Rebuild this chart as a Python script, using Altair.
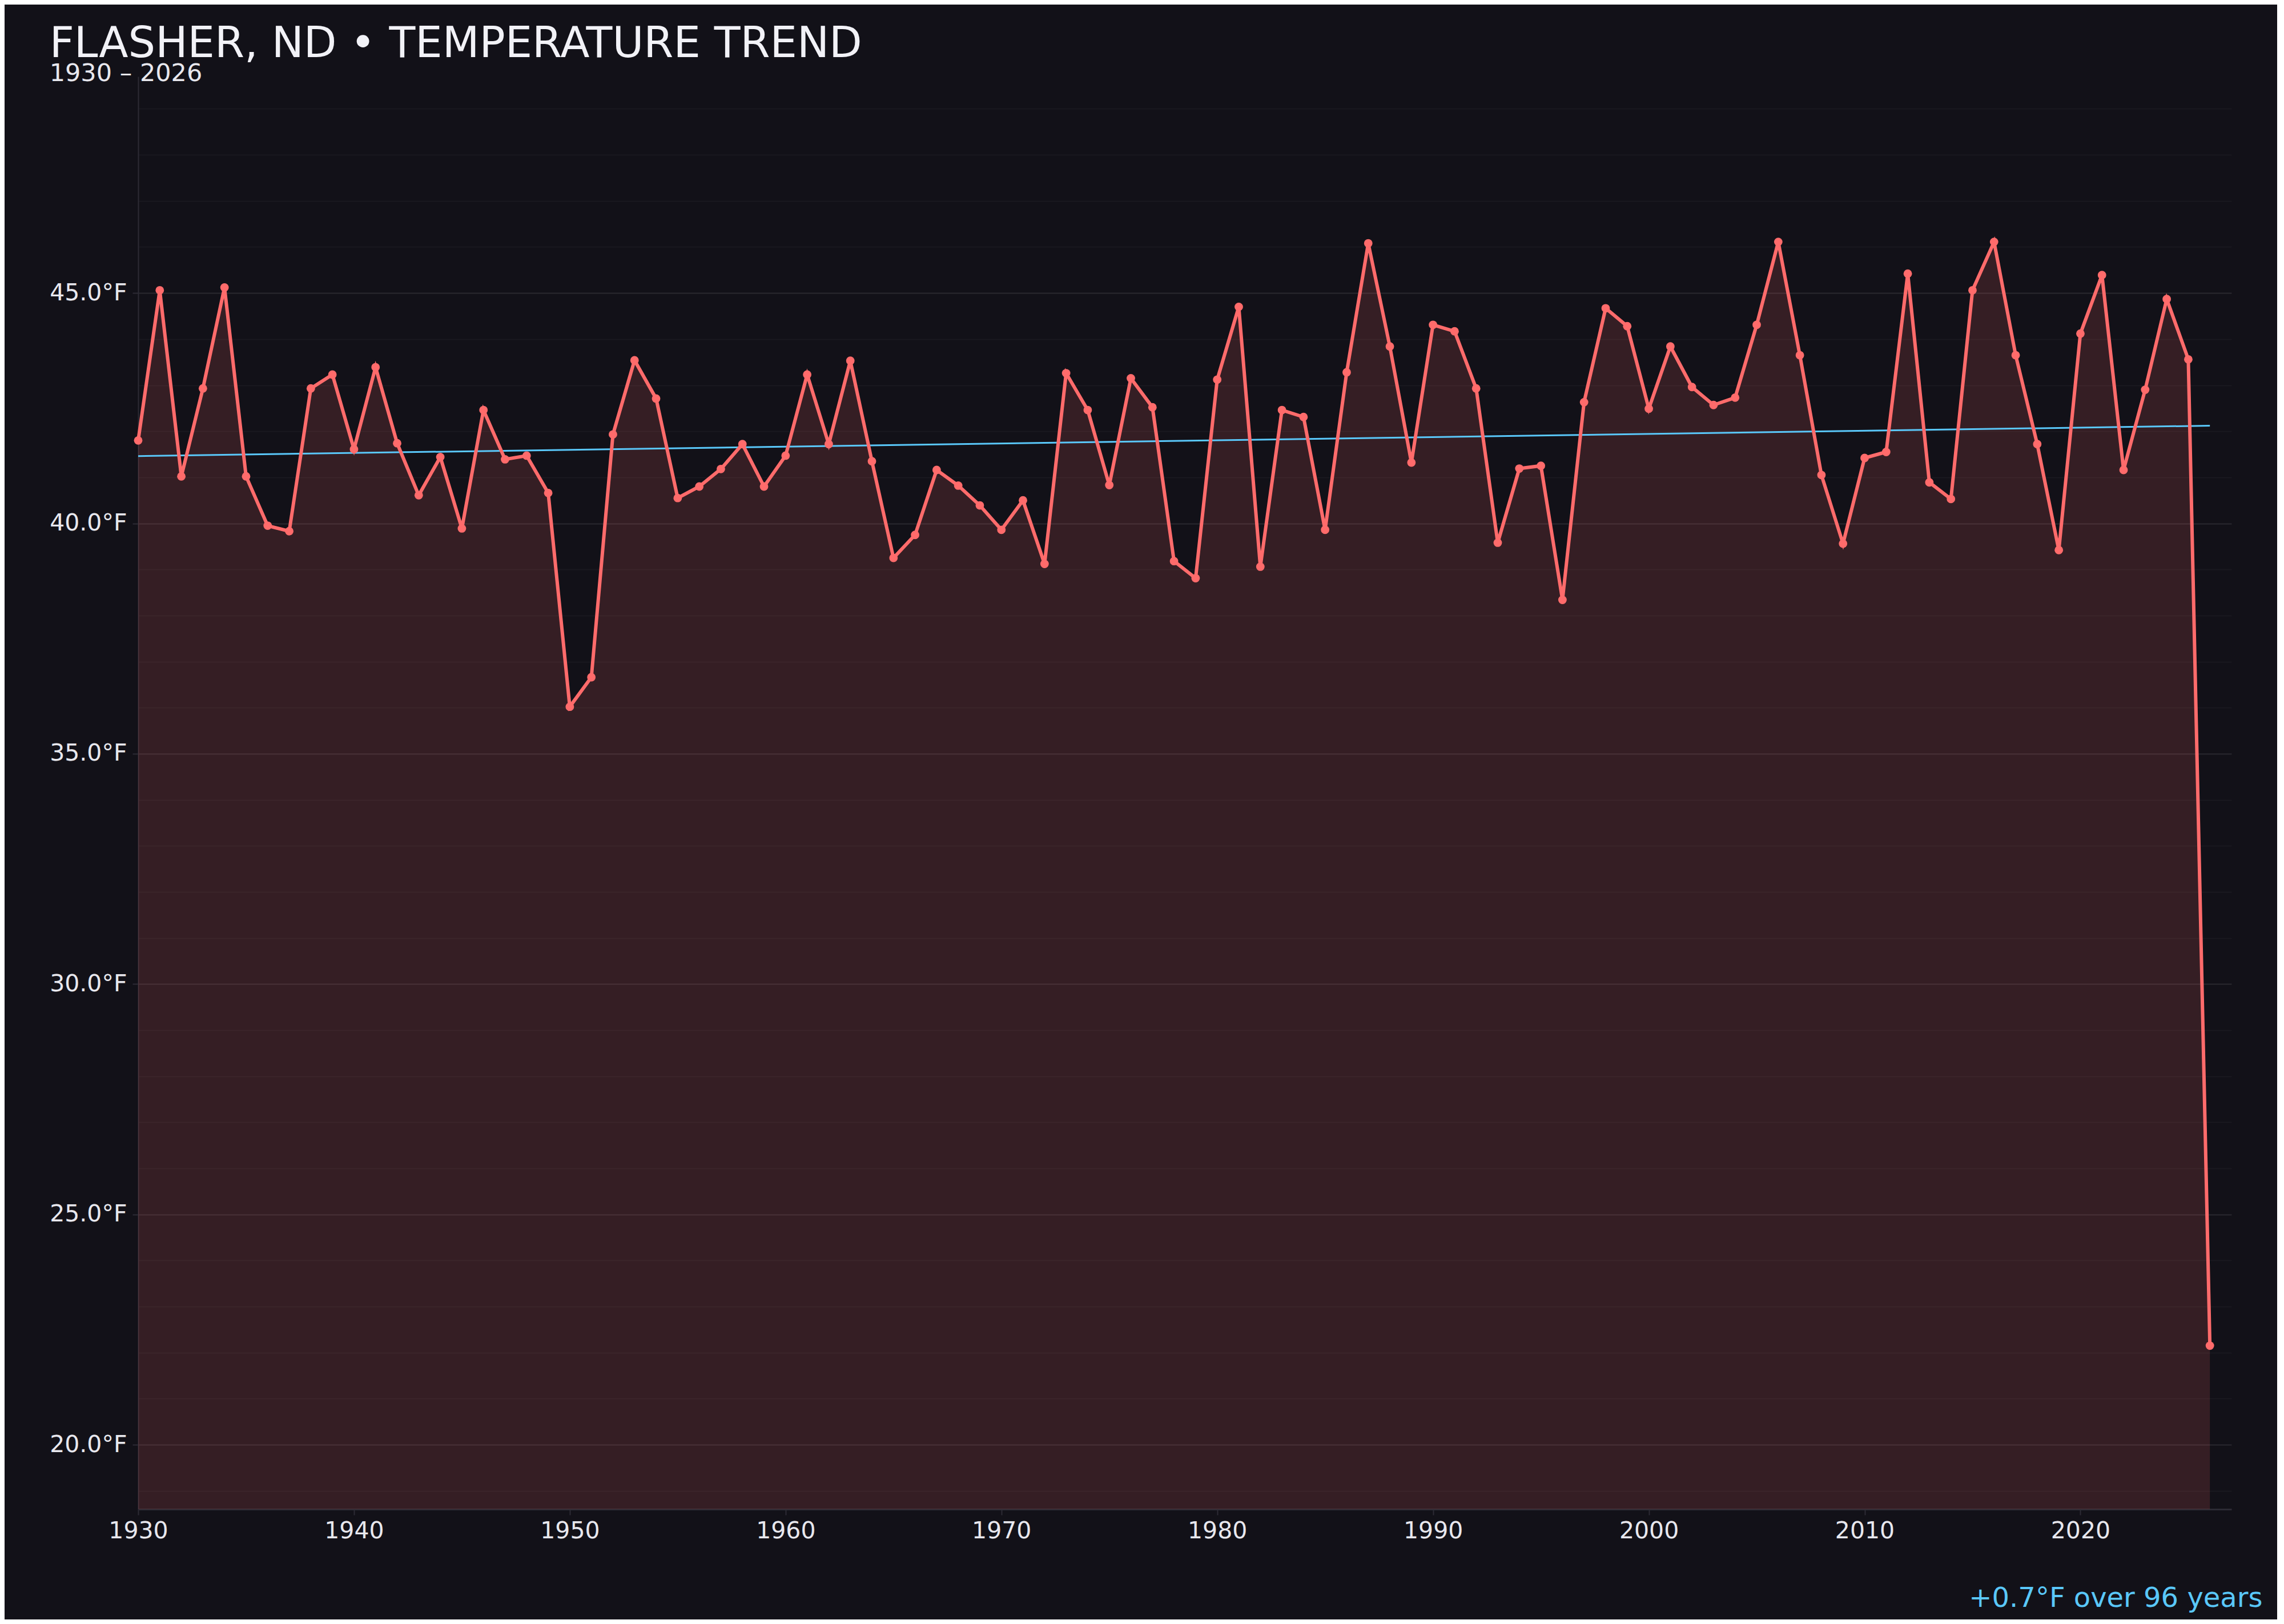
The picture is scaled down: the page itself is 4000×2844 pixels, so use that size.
import altair as alt
import pandas as pd

years = list(range(1930, 2027))
temps = [
    41.80, 45.06, 41.02, 42.93, 45.12, 41.02, 39.95, 39.83, 42.93, 43.23,
    41.61, 43.39, 41.74, 40.61, 41.44, 39.89, 42.46, 41.39, 41.47, 40.66,
    36.02, 36.66, 41.93, 43.54, 42.71, 40.55, 40.80, 41.18, 41.72, 40.80,
    41.47, 43.23, 41.72, 43.53, 41.35, 39.25, 39.75, 41.16, 40.82, 40.39,
    39.86, 40.50, 39.12, 43.26, 42.46, 40.83, 43.15, 42.52, 39.18, 38.81,
    43.12, 44.70, 39.06, 42.46, 42.31, 39.86, 43.28, 46.08, 43.84, 41.32,
    44.31, 44.17, 42.93, 39.58, 41.19, 41.25, 38.34, 42.63, 44.67, 44.28,
    42.49, 43.84, 42.96, 42.57, 42.73, 44.31, 46.11, 43.65, 41.05, 39.56,
    41.42, 41.55, 45.42, 40.89, 40.53, 45.06, 46.11, 43.65, 41.72, 39.42,
    44.12, 45.39, 41.16, 42.90, 44.87, 43.56, 22.15,
]
trend_years = [1930, 2026]
trend_temps = [41.46, 42.12]

x_ticks = [1930, 1940, 1950, 1960, 1970, 1980, 1990, 2000, 2010, 2020]
y_ticks = [20, 25, 30, 35, 40, 45]
y_minor = list(range(19, 50))

title_text = "FLASHER, ND • TEMPERATURE TREND"
subtitle_text = "1930 – 2026"
footer_text = "+0.7°F over 96 years"

BG = "#121118"
RED = "#ff6b6b"
BLUE = "#5ac8fa"
AXIS = "#2c2b34"
FONT = "DejaVu Sans"

df = pd.DataFrame({"year": years, "temp": temps})
tdf = pd.DataFrame({"year": trend_years, "temp": trend_temps})

W, H = 3666, 2509

xscale = alt.Scale(domain=[1930, 2027], nice=False, zero=False)
yscale = alt.Scale(domain=[18.6, 49.7], nice=False, zero=False)

x_axis = alt.Axis(
    values=x_ticks, format="d", grid=False, tickSize=10, tickColor=AXIS, tickWidth=2,
    domainColor=AXIS, domainWidth=3, labelFontSize=41, labelColor="#e8e8ee",
    labelPadding=8, labelFont=FONT, labelFlush=False,
    title=footer_text, titleX=3720, titleY=170, titleAlign="right",
    titleBaseline="alphabetic", titleFontSize=48, titleFontWeight="normal",
    titleColor=BLUE, titleFont=FONT,
)

minor_axis = alt.Axis(
    values=y_minor, grid=True, gridColor="#ffffff", gridOpacity=0.035, gridWidth=2,
    labels=False, ticks=False, domain=False, title=None, orient="left",
)
main_axis = alt.Axis(
    values=y_ticks, grid=True, gridColor="#ffffff", gridOpacity=0.07, gridWidth=2,
    labelExpr="format(datum.value, '.1f') + '°F'", labelFontSize=41,
    labelColor="#e8e8ee", labelPadding=10, labelFont=FONT, tickSize=10,
    tickColor=AXIS, tickWidth=2, domainColor=AXIS, domainWidth=2, title=None,
    orient="left",
)

area = alt.Chart(df).mark_area(color=RED, opacity=0.15, clip=True).encode(
    x=alt.X("year:Q", scale=xscale, axis=x_axis),
    y=alt.Y("temp:Q", scale=yscale, axis=minor_axis),
)
trend = alt.Chart(tdf).mark_line(color=BLUE, strokeWidth=3).encode(
    x=alt.X("year:Q", scale=xscale),
    y=alt.Y("temp:Q", scale=yscale, axis=None),
)
line = alt.Chart(df).mark_line(color=RED, strokeWidth=6).encode(
    x=alt.X("year:Q", scale=xscale),
    y=alt.Y("temp:Q", scale=yscale, axis=main_axis),
)
points = alt.Chart(df).mark_circle(color=RED, size=220, opacity=1).encode(
    x=alt.X("year:Q", scale=xscale),
    y=alt.Y("temp:Q", scale=yscale, axis=None),
)

chart = (
    alt.layer(area, trend, line, points)
    .resolve_axis(y="independent")
    .properties(
        width=W,
        height=H,
        title=alt.TitleParams(
            text=title_text, subtitle=subtitle_text, anchor="start", frame="bounds",
            fontSize=75, subtitleFontSize=43, font=FONT, subtitleFont=FONT,
            fontWeight="normal", color="#f2f2f7", subtitleColor="#e8e8ee",
            offset=-18, subtitlePadding=-8,
        ),
        padding={"left": 234, "top": 126, "right": 80, "bottom": 193},
        autosize=alt.AutoSizeParams(type="none"),
        usermeta={"embedOptions": {
            "defaultStyle": "html, body { background: #121118 !important; margin: 8px; }"
        }},
    )
    .configure(background=BG)
    .configure_view(stroke=None)
)

chart.save("out.html", embed_options={"renderer": "svg", "actions": False})
